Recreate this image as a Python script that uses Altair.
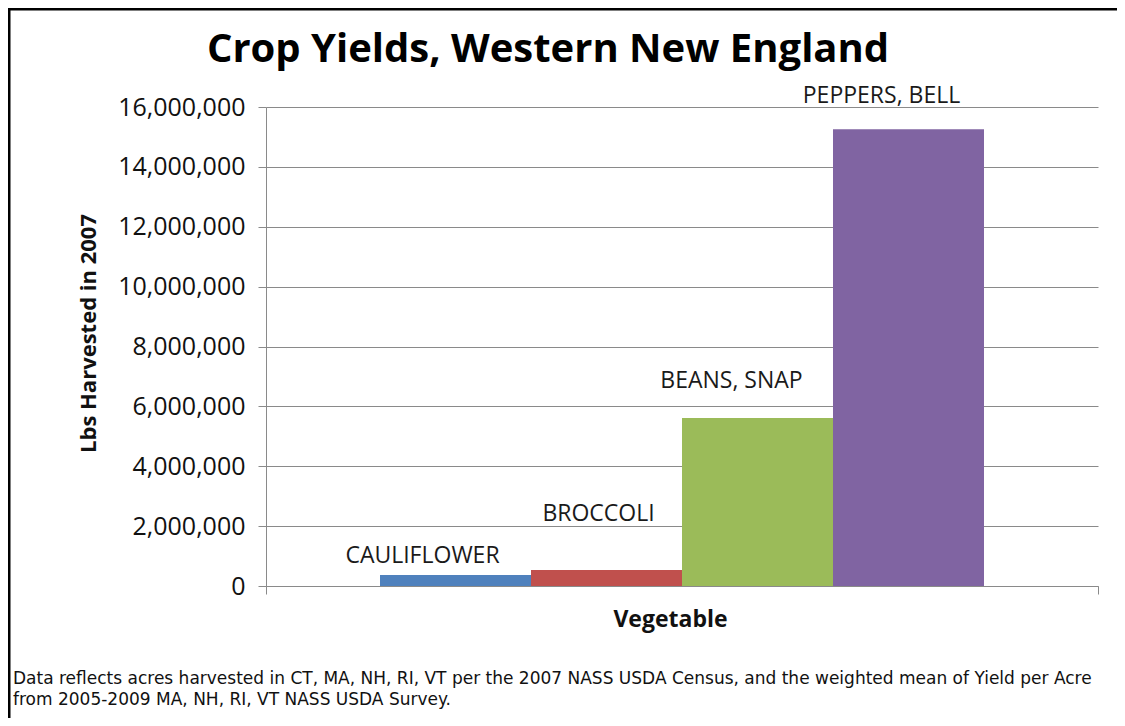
import altair as alt
import pandas as pd

crops = ["CAULIFLOWER", "BROCCOLI", "BEANS, SNAP", "PEPPERS, BELL"]
lbs = [370000, 535000, 5610000, 15260000]
colors = ["#4F81BD", "#C0504D", "#9BBB59", "#8064A2"]
group = ["Vegetable"] * 4
y_ticks = [0, 2000000, 4000000, 6000000, 8000000, 10000000, 12000000, 14000000, 16000000]
footnote = [
    "Data reflects acres harvested in CT, MA, NH, RI, VT per the 2007 NASS USDA Census, and the weighted mean  of Yield per Acre",
    "from 2005-2009 MA, NH, RI, VT NASS USDA Survey.",
]

df = pd.DataFrame({"crop": crops, "lbs": lbs, "group": group})

FONT = "Open Sans"
W, H = 832, 479

x_enc = alt.X("group:N", title="Vegetable",
              scale=alt.Scale(paddingInner=0, paddingOuter=0),
              axis=alt.Axis(labels=False, tickBand="extent", grid=False,
                            domainColor="#8a8a8a", tickColor="#8a8a8a", tickSize=8,
                            titleFont=FONT, titleFontSize=23, titleFontWeight="bold",
                            titleColor="#111", titleX=404, titleY=33, titleBaseline="middle"))
xo_enc = alt.XOffset("crop:N", sort=crops, scale=alt.Scale(paddingInner=0, paddingOuter=0.755))
y_enc = alt.Y("lbs:Q", title="Lbs Harvested in 2007",
              scale=alt.Scale(domain=[0, 16000000], nice=False),
              axis=alt.Axis(values=y_ticks, format=",d", gridColor="#8a8a8a",
                            domainColor="#8a8a8a", tickColor="#8a8a8a", tickSize=8,
                            labelFont=FONT, labelFontSize=25, labelColor="#111", labelPadding=13,
                            titleFont=FONT, titleFontSize=22, titleFontWeight="bold",
                            titleColor="#111", titleX=-178, titleY=226,
                            titleAlign="center", titleBaseline="middle", titleAngle=-90))

bars = alt.Chart(df).mark_bar(size=151, stroke=None).encode(
    x=x_enc, xOffset=xo_enc, y=y_enc,
    color=alt.Color("crop:N", sort=crops, scale=alt.Scale(domain=crops, range=colors), legend=None),
)

label_offsets = {"CAULIFLOWER": (-33, -12), "BROCCOLI": (-8, -49),
                 "BEANS, SNAP": (-26, -30), "PEPPERS, BELL": (-27, -26)}
labels = []
for c in crops:
    dx, dy = label_offsets[c]
    labels.append(
        alt.Chart(df).transform_filter(alt.datum.crop == c).mark_text(
            font=FONT, fontSize=23, color="#1a1a1a", baseline="alphabetic",
            align="center", dx=dx, dy=dy
        ).encode(x=alt.X("group:N"), xOffset=alt.XOffset("crop:N", sort=crops),
                 y=alt.Y("lbs:Q"), text="crop:N")
    )

foot = alt.Chart(pd.DataFrame({"k": [0]})).mark_text(
    text=footnote, font="DejaVu Sans", fontSize=17, color="#111", align="left",
    baseline="alphabetic", lineHeight=21
).encode(x=alt.value(-253), y=alt.value(577))

border = alt.Chart(pd.DataFrame({"k": [0]})).mark_rect(
    fill=None, stroke="#000", strokeWidth=3, clip=False
).encode(x=alt.value(-257), x2=alt.value(1000), y=alt.value(-98), y2=alt.value(800))

chart = alt.layer(bars, *labels, foot, border).properties(
    width=W, height=H,
    autosize=alt.AutoSizeParams(type="none"),
    padding={"left": 258, "top": 99, "right": 19, "bottom": 132},
    title=alt.TitleParams("Crop Yields, Western New England", font=FONT, fontSize=40,
                          fontWeight="bold", color="#000", anchor="middle", frame="group",
                          dx=-134, baseline="alphabetic", offset=-94),
).configure_view(stroke=None)

chart.save("out.html", embed_options={"renderer": "svg", "actions": False})
